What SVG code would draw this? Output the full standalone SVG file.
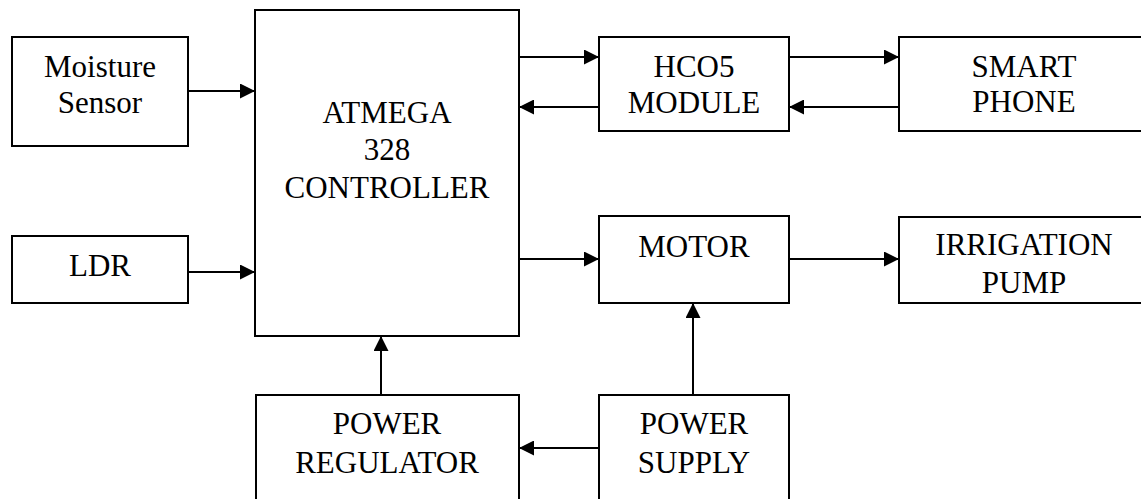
<svg xmlns="http://www.w3.org/2000/svg" width="1141" height="499" viewBox="0 0 1141 499">
<style>
.box{fill:#fff;stroke:#000;stroke-width:2}
.lbl{font-size:31px;fill:#000;text-anchor:middle}
.con{stroke:#000;stroke-width:2;fill:none;marker-end:url(#ah)}
</style>
<defs>
<marker id="ah" markerUnits="userSpaceOnUse" markerWidth="15" markerHeight="15" refX="15" refY="7.5" orient="auto">
<path d="M0,0 L15,7.5 L0,15 z" fill="#000"/>
</marker>
</defs>
<rect width="1141" height="499" fill="#fff"/>
<g font-family="Liberation Serif, DejaVu Serif, serif">
<g id="moisture"><rect class="box" x="12" y="37" width="176" height="109"/><text class="lbl" x="100" y="77">Moisture</text><text class="lbl" x="100" y="113">Sensor</text></g>
<g id="ldr"><rect class="box" x="12" y="236" width="176" height="67"/><text class="lbl" x="100" y="276">LDR</text></g>
<g id="atmega"><rect class="box" x="255" y="10" width="264" height="326"/><text class="lbl" x="387" y="123">ATMEGA</text><text class="lbl" x="387" y="160">328</text><text class="lbl" x="387" y="198">CONTROLLER</text></g>
<g id="hco5"><rect class="box" x="599" y="37" width="190" height="94"/><text class="lbl" x="694" y="77">HCO5</text><text class="lbl" x="694" y="113">MODULE</text></g>
<g id="smartphone"><rect class="box" x="899" y="37" width="250" height="94"/><text class="lbl" x="1024" y="77">SMART</text><text class="lbl" x="1024" y="112">PHONE</text></g>
<g id="motor"><rect class="box" x="599" y="216" width="190" height="87"/><text class="lbl" x="694" y="257">MOTOR</text></g>
<g id="pump"><rect class="box" x="899" y="217" width="250" height="86"/><text class="lbl" x="1024" y="255">IRRIGATION</text><text class="lbl" x="1024" y="293">PUMP</text></g>
<g id="regulator"><rect class="box" x="256" y="395" width="263" height="120"/><text class="lbl" x="387" y="434">POWER</text><text class="lbl" x="387" y="473">REGULATOR</text></g>
<g id="supply"><rect class="box" x="599" y="395" width="190" height="120"/><text class="lbl" x="694" y="434">POWER</text><text class="lbl" x="694" y="473">SUPPLY</text></g>
</g>
<g id="connectors">
<line class="con" x1="188" y1="91" x2="255" y2="91"/>
<line class="con" x1="188" y1="272" x2="255" y2="272"/>
<line class="con" x1="519" y1="57" x2="599" y2="57"/>
<line class="con" x1="599" y1="107" x2="519" y2="107"/>
<line class="con" x1="789" y1="57" x2="899" y2="57"/>
<line class="con" x1="899" y1="107" x2="789" y2="107"/>
<line class="con" x1="519" y1="259" x2="599" y2="259"/>
<line class="con" x1="789" y1="259" x2="899" y2="259"/>
<line class="con" x1="381" y1="395" x2="381" y2="336"/>
<line class="con" x1="693" y1="395" x2="693" y2="303"/>
<line class="con" x1="599" y1="448" x2="519" y2="448"/>
</g>
</svg>
